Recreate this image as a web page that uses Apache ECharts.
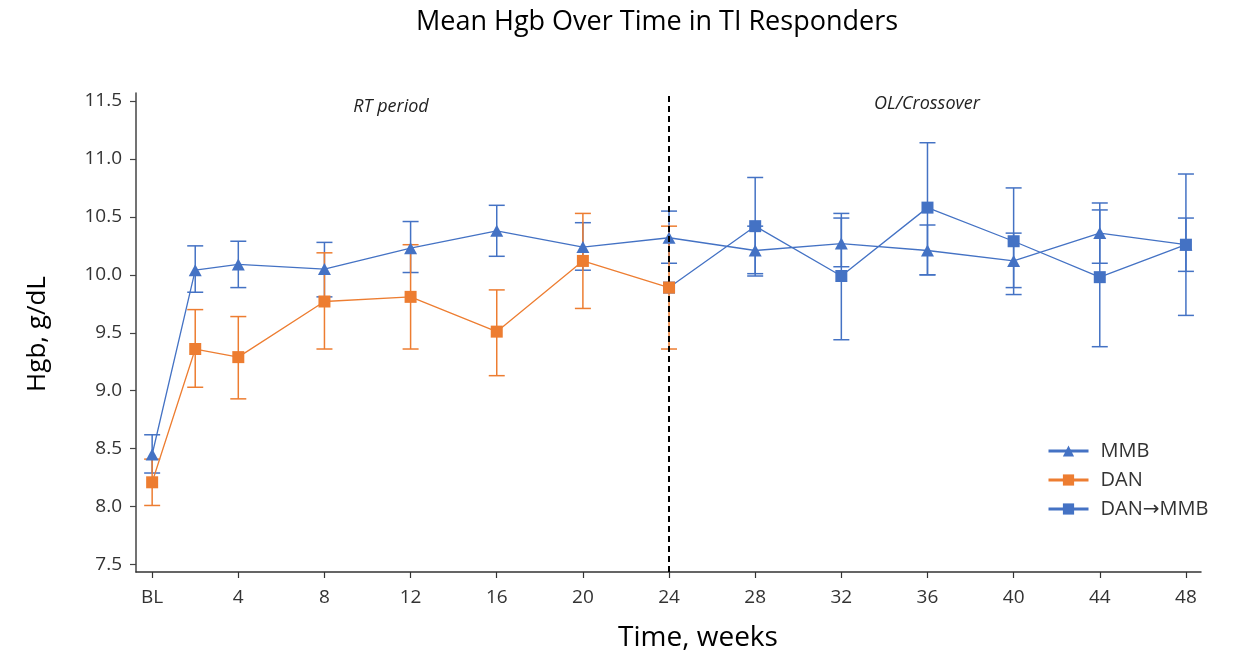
<!DOCTYPE html>
<html>
<head>
<meta charset="utf-8">
<title>Mean Hgb Over Time in TI Responders</title>
<script src="https://cdn.jsdelivr.net/npm/echarts@6/dist/echarts.min.js"></script>
<style>
  html, body { margin: 0; padding: 0; background: #fff; }
  #chart { width: 1245px; height: 656px; }
</style>
</head>
<body>
<div id="chart"></div>
<script>
// Week ticks shown on the x axis (0 is labelled "BL")
const weekTicks = [0, 4, 8, 12, 16, 20, 24, 28, 32, 36, 40, 44, 48];
const hgbTicks = [7.5, 8.0, 8.5, 9.0, 9.5, 10.0, 10.5, 11.0, 11.5];

// MMB arm: mean and error-bar limits
const mmbWeeks = [0, 2, 4, 8, 12, 16, 20, 24, 28, 32, 36, 40, 44, 48];
const mmbMean  = [8.45, 10.04, 10.09, 10.05, 10.23, 10.38, 10.24, 10.32, 10.21, 10.27, 10.21, 10.12, 10.36, 10.26];
const mmbLow   = [8.29, 9.85, 9.89, 9.81, 10.02, 10.16, 10.04, 10.10, 10.01, 10.07, 10.00, 9.89, 10.10, 10.03];
const mmbHigh  = [8.62, 10.25, 10.29, 10.28, 10.46, 10.60, 10.45, 10.55, 10.42, 10.49, 10.43, 10.36, 10.62, 10.49];

// DAN arm (randomized period)
const danWeeks = [0, 2, 4, 8, 12, 16, 20, 24];
const danMean  = [8.21, 9.36, 9.29, 9.77, 9.81, 9.51, 10.12, 9.89];
const danLow   = [8.01, 9.03, 8.93, 9.36, 9.36, 9.13, 9.71, 9.36];
const danHigh  = [8.41, 9.70, 9.64, 10.19, 10.26, 9.87, 10.53, 10.42];

// DAN→MMB crossover (starts from the week-24 DAN mean)
const xoWeeks = [24, 28, 32, 36, 40, 44, 48];
const xoMean  = [9.89, 10.42, 9.99, 10.58, 10.29, 9.98, 10.26];
const xoLow   = [null, 9.99, 9.44, 10.00, 9.83, 9.38, 9.65];
const xoHigh  = [null, 10.84, 10.53, 11.14, 10.75, 10.56, 10.87];

const BLUE = '#4472C4';
const ORANGE = '#ED7D31';
const FONT = '"Open Sans", "Noto Sans", "DejaVu Sans", sans-serif';

function points(weeks, vals) {
  return weeks.map((w, i) => [w, vals[i]]);
}
function bars(weeks, lo, hi) {
  const out = [];
  weeks.forEach((w, i) => {
    if (lo[i] != null && hi[i] != null) out.push([w, lo[i], hi[i]]);
  });
  return out;
}
// Vertical whisker with caps at both ends
function errorBar(color) {
  return function (params, api) {
    const x = api.value(0);
    const lo = api.coord([x, api.value(1)]);
    const hi = api.coord([x, api.value(2)]);
    const half = 8;
    const style = { stroke: color, lineWidth: 1.5, fill: null };
    return {
      type: 'group',
      children: [
        { type: 'line', shape: { x1: lo[0], y1: lo[1], x2: hi[0], y2: hi[1] }, style },
        { type: 'line', shape: { x1: lo[0] - half, y1: lo[1], x2: lo[0] + half, y2: lo[1] }, style },
        { type: 'line', shape: { x1: hi[0] - half, y1: hi[1], x2: hi[0] + half, y2: hi[1] }, style }
      ]
    };
  };
}

const chart = echarts.init(document.getElementById('chart'), null, { renderer: 'canvas' });

chart.setOption({
  animation: false,
  backgroundColor: '#fff',
  title: {
    text: 'Mean Hgb Over Time in TI Responders',
    left: 652,
    textAlign: 'center',
    top: 4,
    textStyle: { fontFamily: FONT, fontSize: 27, fontWeight: 'normal', color: '#000' }
  },
  grid: { left: 136, right: 44, top: 93, bottom: 84 },
  xAxis: {
    type: 'value',
    min: -0.75,
    max: 48.7,
    splitLine: { show: false },
    axisLine: { onZero: false, lineStyle: { color: '#333', width: 1.5 } },
    axisTick: { customValues: weekTicks, length: 6, lineStyle: { color: '#333', width: 1.2 } },
    axisLabel: {
      customValues: weekTicks,
      margin: 16,
      fontFamily: FONT,
      fontSize: 19,
      color: '#333',
      formatter: v => (v === 0 ? 'BL' : String(v))
    }
  },
  yAxis: {
    type: 'value',
    min: 7.436,
    max: 11.569,
    splitLine: { show: false },
    axisLine: { show: true, onZero: false, lineStyle: { color: '#444', width: 1.5 } },
    axisTick: { show: true, customValues: hgbTicks, length: 6, lineStyle: { color: '#444', width: 1.2 } },
    axisLabel: {
      customValues: hgbTicks,
      margin: 14,
      fontFamily: FONT,
      fontSize: 19,
      color: '#333',
      formatter: v => v.toFixed(1)
    }
  },
  legend: {
    orient: 'vertical',
    left: 1047,
    top: 441,
    padding: 0,
    itemWidth: 40,
    itemHeight: 14,
    itemGap: 9,
    lineStyle: { width: 3 },
    textStyle: { fontFamily: FONT, fontSize: 20, color: '#333', padding: [0, 0, 0, 7] },
    data: ['MMB', 'DAN', 'DAN→MMB']
  },
  graphic: [
    { type: 'text', x: 391, y: 107, style: { text: 'RT period', font: 'italic 18px ' + FONT, fill: '#222', align: 'center', verticalAlign: 'middle' } },
    { type: 'text', x: 927, y: 104, style: { text: 'OL/Crossover', font: 'italic 18px ' + FONT, fill: '#222', align: 'center', verticalAlign: 'middle' } },
    { type: 'text', x: 698, y: 638, style: { text: 'Time, weeks', font: '28px ' + FONT, fill: '#000', align: 'center', verticalAlign: 'middle' } },
    { type: 'text', x: 38, y: 334, rotation: Math.PI / 2, style: { text: 'Hgb, g/dL', font: '26px ' + FONT, fill: '#000', align: 'center', verticalAlign: 'middle' } }
  ],
  series: [
    {
      name: 'MMB error', type: 'custom', renderItem: errorBar(BLUE),
      data: bars(mmbWeeks, mmbLow, mmbHigh), encode: { x: 0, y: [1, 2] }, z: 2, silent: true
    },
    {
      name: 'DAN error', type: 'custom', renderItem: errorBar(ORANGE),
      data: bars(danWeeks, danLow, danHigh), encode: { x: 0, y: [1, 2] }, z: 2, silent: true
    },
    {
      name: 'DAN→MMB error', type: 'custom', renderItem: errorBar(BLUE),
      data: bars(xoWeeks, xoLow, xoHigh), encode: { x: 0, y: [1, 2] }, z: 2, silent: true
    },
    {
      name: 'MMB', type: 'line', data: points(mmbWeeks, mmbMean),
      symbol: 'triangle', symbolSize: [13, 12], color: BLUE,
      lineStyle: { width: 1.3, color: BLUE }, itemStyle: { color: BLUE }, z: 3
    },
    {
      name: 'DAN→MMB', type: 'line', data: points(xoWeeks, xoMean),
      symbol: 'rect', symbolSize: 12, color: BLUE,
      lineStyle: { width: 1.3, color: BLUE }, itemStyle: { color: BLUE }, z: 4
    },
    {
      name: 'DAN', type: 'line', data: points(danWeeks, danMean),
      symbol: 'rect', symbolSize: 12, color: ORANGE,
      lineStyle: { width: 1.3, color: ORANGE }, itemStyle: { color: ORANGE }, z: 5,
      markLine: {
        silent: true,
        symbol: ['none', 'none'],
        label: { show: false },
        lineStyle: { color: '#000', type: [6, 4], width: 2 },
        data: [{ xAxis: 24 }]
      }
    }
  ]
});
</script>
</body>
</html>
